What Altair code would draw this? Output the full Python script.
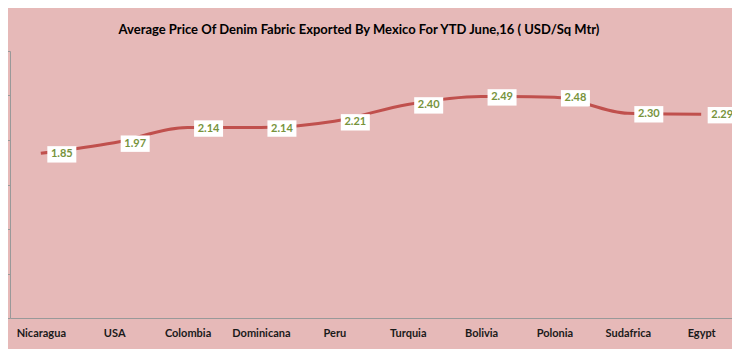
import altair as alt
import pandas as pd

countries = ["Nicaragua", "USA", "Colombia", "Dominicana", "Peru",
             "Turquia", "Bolivia", "Polonia", "Sudafrica", "Egypt"]
prices = [1.85, 1.97, 2.14, 2.14, 2.21, 2.40, 2.49, 2.48, 2.30, 2.29]

df = pd.DataFrame({"country": countries, "price": prices})
df["label"] = df["price"].map(lambda v: f"{v:.2f}")

FONT = "Lato"
x = alt.X("country:N", sort=countries, title=None,
          scale=alt.Scale(padding=0.42),
          axis=alt.Axis(labelAngle=0, ticks=False, labelPadding=9,
                        labelFont=FONT, labelFontSize=11, labelFontWeight="bold",
                        labelColor="#1a1a1a", domainColor="#999999", domainWidth=1,
                        grid=False))
y = alt.Y("price:Q", title=None,
          scale=alt.Scale(domain=[0, 3], nice=False, zero=True),
          axis=alt.Axis(values=[0, 0.5, 1, 1.5, 2, 2.5, 3], labels=False,
                        tickSize=4, tickColor="#999999", domainColor="#999999",
                        grid=False))

base = alt.Chart(df).encode(x=x, y=y)

line = base.mark_line(color="#C0504D", strokeWidth=3, interpolate="monotone")

boxes = base.mark_point(
    shape="M-1.45,-0.82L1.45,-0.82L1.45,0.82L-1.45,0.82Z",
    size=400, filled=True, fill="white", opacity=1, strokeWidth=0,
    xOffset=21, yOffset=1)

labels = base.mark_text(font=FONT, fontSize=11, fontWeight="bold",
                        color="#77933C", dx=21, dy=1).encode(text="label:N")

chart = (line + boxes + labels).properties(
    width=722, height=267,
    title=alt.TitleParams(
        "Average Price Of Denim Fabric Exported By Mexico For YTD June,16 ( USD/Sq Mtr)",
        font=FONT, fontSize=13, fontWeight="bold", color="#000000",
        anchor="middle", dx=-12, offset=14),
    autosize=alt.AutoSizeParams(type="none"),
    padding={"left": 2, "top": 43, "right": 0, "bottom": 31},
    background="#E6B9B8",
).configure_view(stroke=None)

chart.save("out.html", embed_options={"renderer": "svg", "actions": False})
